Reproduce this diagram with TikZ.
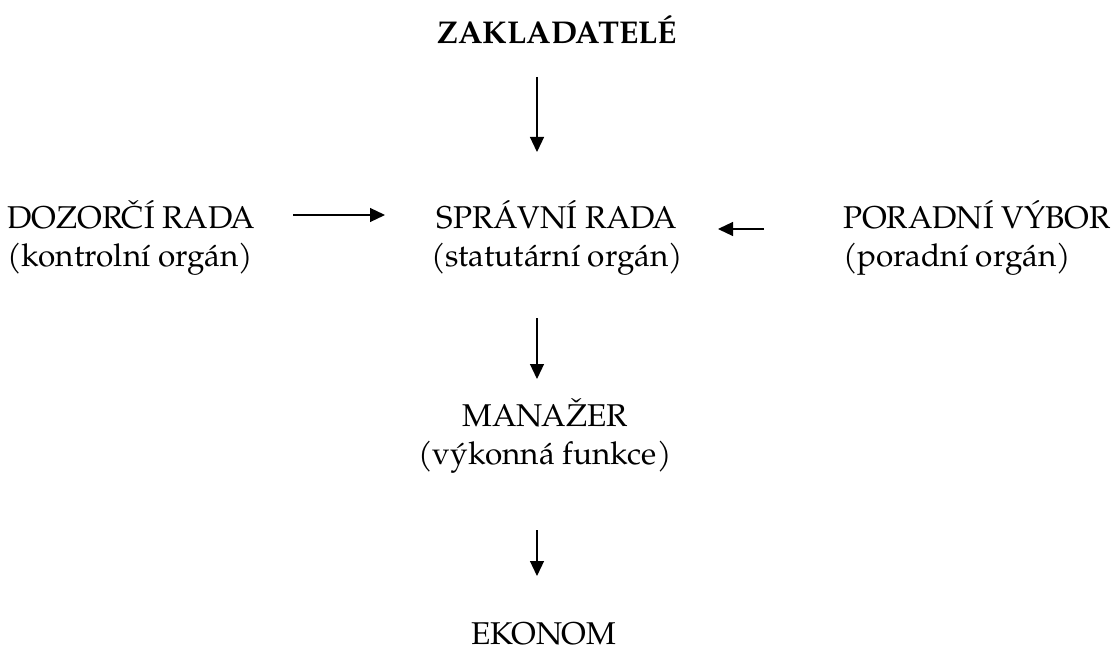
\documentclass[tikz,border=0pt]{standalone}
\usepackage{fontspec}
\setmainfont{TeX Gyre Pagella}
\usetikzlibrary{arrows.meta}
\begin{document}
\begin{tikzpicture}[x=1pt,y=-1pt,
  lbl/.style={inner sep=0pt,font=\fontsize{31.5}{35}\selectfont},
  ttl/.style={inner sep=0pt,font=\fontsize{31.5}{35}\selectfont\bfseries},
  arr/.style={line width=1.2pt,-{Triangle[length=15pt,width=14pt]}}]
\useasboundingbox (0,0) rectangle (1117,650);
% nodes
\node[ttl,anchor=base] (zak) at (557,44) {ZAKLADATELÉ};
\node[lbl,anchor=base] (spr) at (557,228) {SPRÁVNÍ RADA};
\node[lbl,anchor=base] (spr2) at (557,266) {(statutární orgán)};
\node[lbl,anchor=base west] (doz) at (7,228) {DOZORČÍ RADA};
\node[lbl,anchor=base west] (doz2) at (7,266) {(kontrolní orgán)};
\node[lbl,anchor=base west] (por) at (843,228) {PORADNÍ VÝBOR};
\node[lbl,anchor=base west] (por2) at (843,266) {(poradní orgán)};
\node[lbl,anchor=base] (man) at (545,426) {MANAŽER};
\node[lbl,anchor=base] (man2) at (545,464) {(výkonná funkce)};
\node[lbl,anchor=base] (eko) at (544,644) {EKONOM};
% arrow end points
\coordinate (a1s) at (537,77);  \coordinate (a1e) at (537,152);
\coordinate (a2s) at (293,215); \coordinate (a2e) at (385,215);
\coordinate (a3s) at (764,229); \coordinate (a3e) at (718,229);
\coordinate (a4s) at (537,318); \coordinate (a4e) at (537,379);
\coordinate (a5s) at (537,530); \coordinate (a5e) at (537,576);
% connectors
\draw[arr] (a1s) -- (a1e);
\draw[arr] (a2s) -- (a2e);
\draw[arr] (a3s) -- (a3e);
\draw[arr] (a4s) -- (a4e);
\draw[arr] (a5s) -- (a5e);
\end{tikzpicture}
\end{document}
